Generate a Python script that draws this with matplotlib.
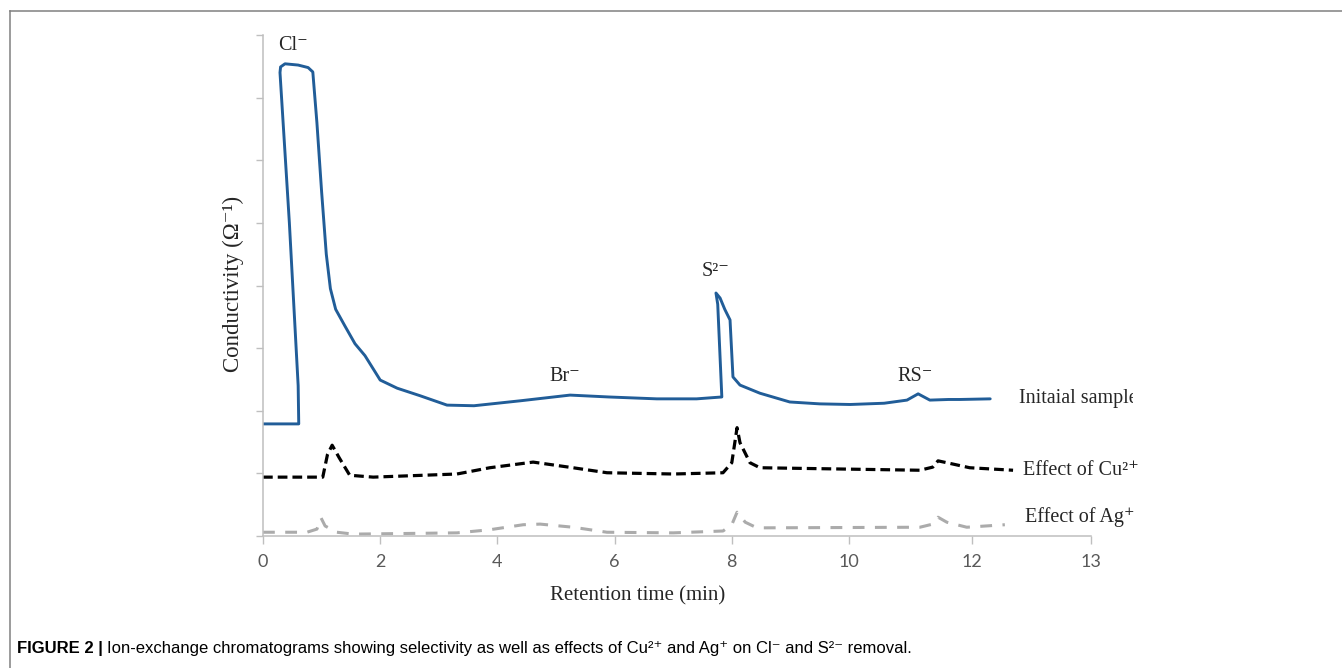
import matplotlib
matplotlib.use("Agg")
import matplotlib.pyplot as plt
from matplotlib.lines import Line2D
from matplotlib.patches import Rectangle

plt.rcParams['lines.scale_dashes'] = False

# ---------------- data ----------------
init_x = [0.0, 0.61, 0.60, 0.45, 0.29, 0.30, 0.375, 0.60, 0.77, 0.85, 0.92, 1.00, 1.08, 1.15, 1.24,
          1.40, 1.57, 1.74, 2.00, 2.29, 2.68, 3.14, 3.60, 4.40, 5.24, 5.90, 6.72, 7.40, 7.83,
          7.76, 7.73, 7.80, 7.88, 7.97, 8.02, 8.14, 8.48, 8.99, 9.50, 10.02, 10.60, 10.99,
          11.18, 11.38, 11.70, 11.89, 12.41]
init_y = [1.79, 1.79, 2.40, 5.00, 7.40, 7.49, 7.54, 7.52, 7.48, 7.41, 6.60, 5.50, 4.50, 3.95, 3.62,
          3.35, 3.07, 2.88, 2.49, 2.36, 2.24, 2.09, 2.08, 2.16, 2.25, 2.22, 2.19, 2.19, 2.22,
          3.70, 3.88, 3.80, 3.62, 3.45, 2.54, 2.41, 2.28, 2.14, 2.11, 2.10, 2.12, 2.17,
          2.27, 2.17, 2.18, 2.18, 2.19]

cu_x = [0.0, 1.02, 1.10, 1.18, 1.30, 1.48, 1.88, 3.31, 3.87, 4.61, 5.29, 5.87, 7.00, 7.85,
        8.00, 8.09, 8.14, 8.31, 8.48, 11.21, 11.43, 11.52, 11.67, 12.06, 12.80]
cu_y = [0.94, 0.94, 1.30, 1.45, 1.25, 0.97, 0.94, 0.99, 1.09, 1.18, 1.09, 1.01, 0.99, 1.01,
        1.17, 1.73, 1.49, 1.17, 1.09, 1.05, 1.10, 1.20, 1.17, 1.09, 1.05]

ag_x = [0.0, 0.75, 0.92, 0.99, 1.06, 1.26, 1.54, 3.31, 3.87, 4.44, 4.73, 5.29, 5.87, 7.00,
        7.85, 8.00, 8.09, 8.23, 8.43, 11.21, 11.43, 11.52, 11.67, 12.01, 12.66]
ag_y = [0.06, 0.06, 0.11, 0.29, 0.16, 0.06, 0.03, 0.05, 0.10, 0.18, 0.19, 0.14, 0.06, 0.05,
        0.08, 0.18, 0.38, 0.22, 0.13, 0.14, 0.19, 0.30, 0.22, 0.14, 0.18]

xtick_pos = [0, 2, 4, 6, 8, 10, 12.1, 14.13]
xtick_labels = ['0', '2', '4', '6', '8', '10', '12', '13']
ytick_pos = [0, 1, 2, 3, 4, 5, 6, 7, 8]

peak_labels = ['Cl⁻', 'Br⁻', 'S²⁻', 'RS⁻']
peak_label_x = [0.26, 4.88, 7.49, 10.82]
peak_label_y = [7.84, 2.55, 4.22, 2.55]

series_labels = ['Initaial sample', 'Effect of Cu²⁺', 'Effect of Ag⁺']
series_label_x = [12.90, 12.97, 13.00]
series_label_y = [2.20, 1.05, 0.31]

# ---------------- figure ----------------
W, H = 1342, 668
fig = plt.figure(figsize=(W / 100, H / 100), dpi=100)
fig.patch.set_facecolor('white')

ax = fig.add_axes([263 / W, 1 - 536 / H, (1091 - 263) / W, (536 - 35) / H])

serif = ['Liberation Serif', 'DejaVu Serif']
sans = ['Liberation Sans', 'DejaVu Sans']
txt_col = '#262626'

ax.plot(init_x, init_y, color='#215d98', lw=2.1, solid_joinstyle='round', solid_capstyle='round')
l_cu, = ax.plot(cu_x, cu_y, color='black', lw=2.3)
l_cu.set_dashes([7.0, 3.6])
l_ag, = ax.plot(ag_x, ag_y, color='#ababab', lw=2.2)
l_ag.set_dashes([8.5, 7.5])

ax.set_xlim(0, 14.13)
ax.set_ylim(0, 8)
ax.set_xticks(xtick_pos)
ax.set_xticklabels(xtick_labels, family=['Lato', 'DejaVu Sans'], fontsize=13, color='#595959')
ax.set_yticks(ytick_pos)
ax.set_yticklabels([])
ax.tick_params(axis='x', direction='out', length=6, width=1, color='#bfbfbf', pad=7)
ax.tick_params(axis='y', direction='out', length=5, width=1, color='#bfbfbf')
for s in ['top', 'right']:
    ax.spines[s].set_visible(False)
for s in ['left', 'bottom']:
    ax.spines[s].set_color('#bfbfbf')
    ax.spines[s].set_linewidth(1.1)

for lab, x, y in zip(peak_labels, peak_label_x, peak_label_y):
    ax.text(x, y, lab, family=serif, fontsize=14.5, color=txt_col, ha='left', va='center')

for lab, x, y in zip(series_labels, series_label_x, series_label_y):
    ax.text(x, y, lab, family=serif, fontsize=14.5, color=txt_col, ha='left', va='center',
            clip_on=False)

# the first label is cut off at its right end in the original
fig.add_artist(Rectangle((1133 / W, 1 - 412 / H), 40 / W, 30 / H, transform=fig.transFigure,
                         facecolor='white', edgecolor='none', zorder=10))

fig.text(233 / W, 1 - 284 / H, 'Conductivity (Ω⁻¹)', family=serif, fontsize=16.5,
         color=txt_col, rotation=90, ha='center', va='center')
fig.text(638 / W, 1 - 596 / H, 'Retention time (min)', family=serif, fontsize=15,
         color=txt_col, ha='center', va='center')

# caption
t1 = fig.text(17 / W, 1 - 648 / H, 'FIGURE 2 |', family=sans, fontsize=12, weight='bold',
              color='black', ha='left', va='center')
fig.canvas.draw()
bb = t1.get_window_extent()
fig.text((bb.x1 + 4) / W, 1 - 648 / H,
         'Ion-exchange chromatograms showing selectivity as well as effects of Cu²⁺ and Ag⁺ on Cl⁻ and S²⁻ removal.',
         family=sans, fontsize=12, color='black', ha='left', va='center')

# frame
fig.add_artist(Line2D([9.5 / W, 9.5 / W], [0, 1 - 10.5 / H], transform=fig.transFigure,
                      color='#808080', lw=1.1))
fig.add_artist(Line2D([9.5 / W, 1], [1 - 10.5 / H, 1 - 10.5 / H], transform=fig.transFigure,
                      color='#808080', lw=1.1))

fig.savefig('out.png', dpi=100)
